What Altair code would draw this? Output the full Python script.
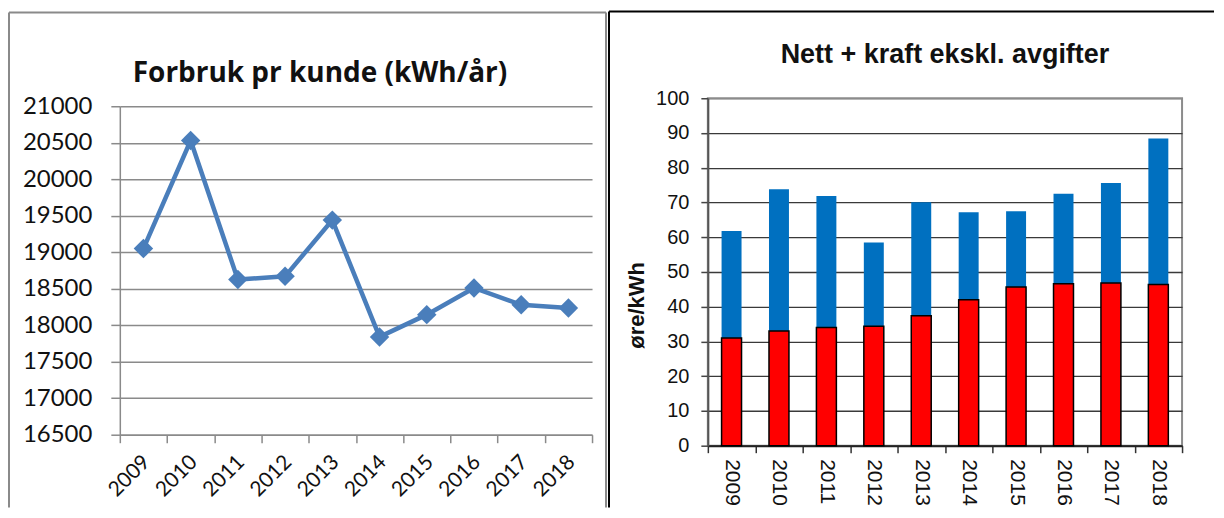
import altair as alt
import pandas as pd

# ---------------- data ----------------
years = ["2009", "2010", "2011", "2012", "2013", "2014", "2015", "2016", "2017", "2018"]
forbruk = [19050, 20530, 18625, 18670, 19440, 17840, 18145, 18510, 18280, 18235]
nett = [31.0, 33.0, 34.0, 34.4, 37.4, 42.0, 45.7, 46.6, 46.8, 46.4]
kraft = [30.8, 40.8, 37.9, 24.1, 32.7, 25.2, 21.8, 25.9, 28.8, 42.0]
left_y_ticks = list(range(16500, 21001, 500))
right_y_ticks = list(range(0, 101, 10))

left_title = "Forbruk pr kunde (kWh/år)"
right_title = "Nett + kraft ekskl. avgifter"
right_y_title = "øre/kWh"

# ---------------- geometry (page px) ----------------
G_Y0 = 99                      # common top of both view groups
L_X0, L_TOP, L_W, L_BOT = 120, 107, 473, 436
L_H = L_BOT - G_Y0
R_X0, R_Y0, R_W, R_H = 708, 99, 475, 348
PAGE_R, PAGE_B = 1215, 509     # keep the page inside the window

frame_df = pd.DataFrame({"k": [0]})

# ---------------- left chart ----------------
df_left = pd.DataFrame({"år": years, "forbruk": forbruk})
band = alt.Scale(type="band", paddingInner=0, paddingOuter=0)

xl = alt.X("år:O", scale=band, axis=alt.Axis(
    title=None, labelAngle=-45, labelAlign="right", labelBaseline="middle",
    labelFont="Lato", labelFontSize=21, labelColor="#111111", labelPadding=16,
    labelOffset=3, tickBand="extent", tickSize=8, tickColor="#8a8a8a", tickWidth=1.5,
    domainColor="#8a8a8a", domainWidth=1.5, grid=False))
yl = alt.Y("forbruk:Q",
           scale=alt.Scale(domain=[16500, 21000], nice=False, zero=False,
                           range=[L_H, L_TOP - G_Y0]),
           axis=alt.Axis(title=None, values=left_y_ticks, format="d",
                         labelFont="Lato", labelFontSize=24, labelColor="#111111",
                         labelPadding=19, tickSize=9, tickColor="#8a8a8a", tickWidth=1.5,
                         gridColor="#8a8a8a", gridWidth=1.5,
                         domainColor="#8a8a8a", domainWidth=1.5))

line_color = "#4A7EBB"
l_line = alt.Chart(df_left).mark_line(color=line_color, strokeWidth=4.5).encode(x=xl, y=yl)
l_pts = alt.Chart(df_left).mark_point(shape="diamond", filled=True, size=380,
                                       color=line_color, opacity=1).encode(x=xl, y=yl)

gray = "#8a8a8a"
l_f1 = alt.Chart(frame_df).mark_rule(color=gray, strokeWidth=2).encode(
    x=alt.value(9 - L_X0), y=alt.value(13 - G_Y0), y2=alt.value(PAGE_B - G_Y0))
l_f2 = alt.Chart(frame_df).mark_rule(color=gray, strokeWidth=2).encode(
    x=alt.value(9 - L_X0), x2=alt.value(607 - L_X0), y=alt.value(13 - G_Y0))
l_f3 = alt.Chart(frame_df).mark_rule(color=gray, strokeWidth=2).encode(
    x=alt.value(607 - L_X0), y=alt.value(13 - G_Y0), y2=alt.value(PAGE_B - G_Y0))

left = alt.layer(l_f1, l_f2, l_f3, l_line, l_pts).properties(
    width=L_W, height=L_H,
    title=alt.TitleParams(left_title, font="Open Sans", fontSize=28, fontWeight="bold",
                          color="#111111", anchor="middle", frame="group",
                          baseline="alphabetic", offset=0, dx=-36, dy=99),
)

# ---------------- right chart ----------------
df_right = pd.DataFrame({"år": years, "nett": nett, "kraft": kraft})
base_r = alt.Chart(df_right).transform_calculate(total="datum.nett + datum.kraft")

xr = alt.X("år:O", scale=band, axis=alt.Axis(
    title=None, labelAngle=90, labelAlign="left", labelBaseline="middle",
    labelFont="Liberation Sans", labelFontSize=21, labelColor="#111111", labelPadding=6,
    tickBand="extent", tickSize=7, tickColor="#333333", tickWidth=1.5,
    domainColor="#222222", domainWidth=2, grid=False))

yscale_r = alt.Scale(domain=[0, 100], nice=False)
yaxis_r = alt.Axis(title=right_y_title, values=right_y_ticks,
                   titleFont="Liberation Sans", titleFontSize=22, titleFontWeight="bold",
                   titleColor="#111111", titleAngle=270, titleAlign="center",
                   titleBaseline="middle", titleX=637 - R_X0, titleY=306 - R_Y0,
                   labelFont="Liberation Sans", labelFontSize=20, labelColor="#111111",
                   labelPadding=12, tickSize=7, tickColor="#444444", tickWidth=1.5,
                   gridColor=alt.condition("datum.value == 100", alt.value("#8c8c8c"), alt.value("#3a3a3a")),
                   gridWidth=1.3, domainColor="#555555", domainWidth=2)

blue = base_r.mark_bar(color="#0070C0", size=20).encode(
    x=xr, y=alt.Y("total:Q", scale=yscale_r, axis=yaxis_r), y2="nett:Q")
red = base_r.mark_bar(color="#FF0000", stroke="#000000", strokeWidth=1.5, size=20).encode(
    x=xr, y=alt.Y("nett:Q", scale=yscale_r, axis=yaxis_r))

r_f1 = alt.Chart(frame_df).mark_rule(color="#000000", strokeWidth=2).encode(
    x=alt.value(609 - R_X0), y=alt.value(12 - R_Y0), y2=alt.value(PAGE_B - R_Y0))
r_f2 = alt.Chart(frame_df).mark_rule(color="#000000", strokeWidth=2).encode(
    x=alt.value(609 - R_X0), x2=alt.value(PAGE_R - R_X0), y=alt.value(12 - R_Y0))

right = alt.layer(r_f1, r_f2, blue, red).properties(
    width=R_W, height=R_H,
    view=alt.ViewBackground(stroke="#8c8c8c", strokeWidth=2),
    title=alt.TitleParams(right_title, font="Liberation Sans", fontSize=27, fontWeight="bold",
                          color="#111111", anchor="middle", frame="group",
                          baseline="alphabetic", offset=0, dx=0, dy=80),
)

chart = alt.ConcatChart(concat=[left, right], columns=2, spacing=0, bounds="full",
                        align="none").properties(
    padding={"left": 0, "top": 1, "right": 0, "bottom": 0},
    autosize=alt.AutoSizeParams(type="pad"),
).configure(background="white").configure_view(strokeWidth=0)

chart.save("out.html", embed_options={"renderer": "svg", "actions": False})
